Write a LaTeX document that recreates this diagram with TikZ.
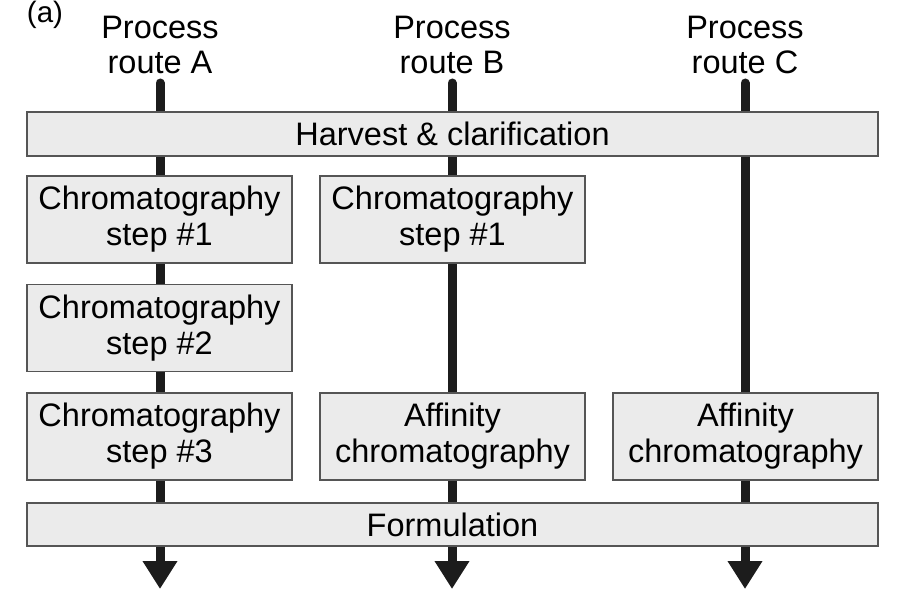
\documentclass[tikz,border=0pt]{standalone}
\usepackage{fontspec}
\setmainfont{Liberation Sans}
\usetikzlibrary{arrows.meta}
\tikzset{
  stepbox/.style={draw=boxline, line width=1.5pt, fill=boxfill, align=center,
    inner sep=0pt, font=\fontsize{32.5}{36}\selectfont},
  stage/.style={stepbox, minimum width=265pt, minimum height=87pt},
  wide/.style={stepbox, minimum width=851pt, minimum height=44pt},
  head/.style={align=center, inner sep=0pt, font=\fontsize{32.5}{35}\selectfont},
  flow/.style={line width=9pt, draw=flowcol, line cap=round,
    -{Triangle[width=33pt,length=28pt]}}
}
\definecolor{boxline}{HTML}{555555}
\definecolor{boxfill}{HTML}{EBEBEB}
\definecolor{flowcol}{HTML}{1C1C1C}
\begin{document}
\begin{tikzpicture}[x=1pt,y=-1pt]
\useasboundingbox (0,0) rectangle (907,604);
% headers
\node[head, font=\fontsize{29.5}{32}\selectfont] (lab) at (45,15) {(a)};
\node[head] (hA) at (160,45) {Process\\route A};
\node[head] (hB) at (452,45) {Process\\route B};
\node[head] (hC) at (745,45) {Process\\route C};
% flow line anchors
\coordinate (tA) at (160,83);
\coordinate (tB) at (452,83);
\coordinate (tC) at (745,83);
\coordinate (eA) at (160,589);
\coordinate (eB) at (452,589);
\coordinate (eC) at (745,589);
\draw[flow] (tA) -- (eA);
\draw[flow] (tB) -- (eB);
\draw[flow] (tC) -- (eC);
% boxes
\node[wide] (harvest) at (452.5,134) {Harvest \& clarification};
\node[stage] (a1) at (159.5,219.5) {Chromatography\\step \#1};
\node[stage] (a2) at (159.5,328) {Chromatography\\step \#2};
\node[stage] (a3) at (159.5,436.5) {Chromatography\\step \#3};
\node[stage] (b1) at (452.5,219.5) {Chromatography\\step \#1};
\node[stage] (b2) at (452.5,436.5) {Affinity\\chromatography};
\node[stage] (c1) at (745.5,436.5) {Affinity\\chromatography};
\node[wide, minimum height=43pt] (form) at (452.5,524.5) {Formulation};
\end{tikzpicture}
\end{document}
